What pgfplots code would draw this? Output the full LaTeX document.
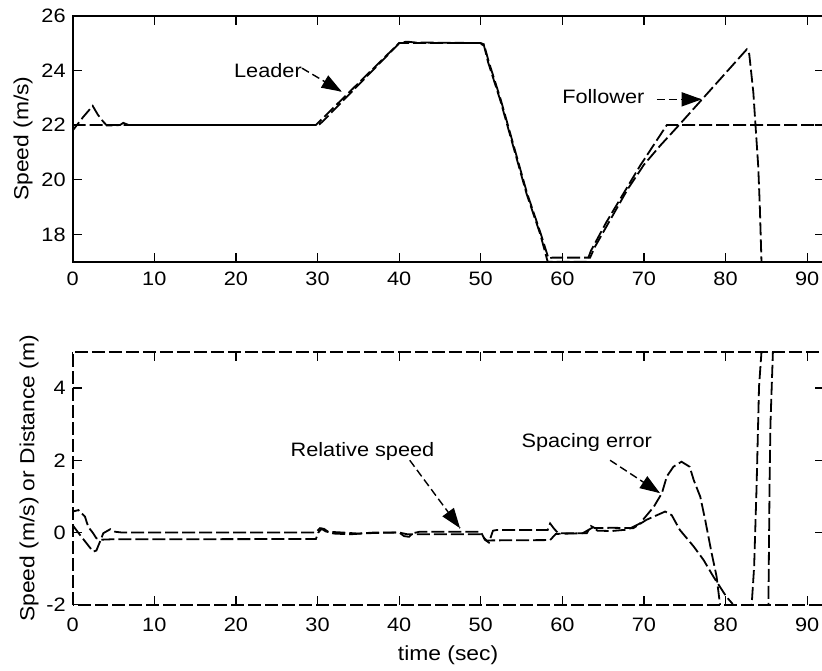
\documentclass[border=0pt]{standalone}
\usepackage{fontspec}
\setmainfont{Liberation Sans}[FakeStretch=1.12]
\usepackage{pgfplots}
\pgfplotsset{compat=1.18}
\usetikzlibrary{arrows.meta,calc}
\newcommand\fs{\fontsize{9.7}{11.6}\selectfont}
\newcommand\fl{\fontsize{10.2}{12}\selectfont}

\tikzset{
  dline/.style={black, line width=0.9pt, dash pattern=on 6.5pt off 2pt},
  annline/.style={black, line width=0.7pt, dash pattern=on 4pt off 2pt},
  annhead/.style={black, line width=0.7pt, solid,
    -{Triangle[length=10pt,width=7pt]}},
}
% dashed leader line with a solid filled head
\newcommand\annarrow[2]{%
  \draw[annline] #1 -- #2;
  \draw[annhead] ($#1!0.97!#2$) -- #2;
}
\pgfplotsset{
  matstyle/.style={
    scale only axis, width=375.4pt,
    xmin=0, xmax=92, xtick={0,10,...,90},
    tick align=inside, tick pos=both, major tick length=4.5pt,
    every tick/.style={black, line width=0.6pt},
    /pgf/number format/assume math mode=true,
    tick label style={font=\fs},
    label style={font=\fl},
  },
}

\begin{document}
\begin{tikzpicture}
\path[use as bounding box] (-36.35pt,-32.65pt) rectangle (374.65pt,302.35pt);

% upper panel: speeds
\begin{axis}[matstyle, at={(0,171.5pt)}, anchor=south west, height=123pt,
  ymin=17, ymax=26, ytick={18,20,...,26},
  axis line style={line width=1pt},
  xticklabel style={yshift=-1.8pt},
  ylabel={Speed (m/s)},
  ylabel style={at={(axis description cs:-0.0662,0.5)}, anchor=center},
]
% leader
\addplot[dline] coordinates {
  (0,22) (29.8,22) (40,25) (49.9,25) (50.4,24.9) (50.9,24.3) (52.4,22.9)
  (54,21.2) (55.6,19.5) (57.3,18.0) (58.2,17) (63.0,17) (63.5,17.4)
  (65.4,18.45) (67.9,19.7) (69.5,20.5) (72.8,22) (92,22)
};
% follower
\addplot[dline, dash phase=1.3pt] coordinates {
  (0,21.8) (1.3,22.3) (2.45,22.7) (3.1,22.37) (3.75,22.12) (4.2,21.98)
  (5.8,22.0) (6.2,22.08) (6.7,22.02) (7,22) (30,22) (30.2,22.02)
  (30.6,22.12) (40.1,25.02) (41,25.05) (42,25.02) (50,25)
  (50.4,24.95) (50.95,24.35) (52.45,22.93) (54.05,21.23) (55.65,19.53)
  (57.35,18.03) (58.3,17.12) (58.8,17.15) (63.4,17.15)
  (64,17.55) (66,18.6) (68,19.65) (70,20.55) (72,21.25) (74.3,22.0)
  (77,22.9) (80,23.9) (82.6,24.77) (82.9,24.6) (83.4,23.2) (84.0,20.5)
  (84.2,19.0) (84.4,17.0) (84.6,14)
};
\node[font=\fs] at (axis cs:23.93,24.01) {Leader};
\annarrow{(axis cs:28.1,24.08)}{(axis cs:32.97,23.22)}
\node[font=\fs] at (axis cs:65.02,23.04) {Follower};
\annarrow{(axis cs:71.57,22.94)}{(axis cs:77.08,22.94)}
\end{axis}

% lower panel: relative speed and spacing error
\begin{axis}[matstyle, at={(0,0)}, anchor=south west, height=126.4pt,
  ymin=-2, ymax=5, ytick={-2,0,2,4}, yticklabels={-2,0,2,4},
  axis line style={line width=1pt, dash pattern=on 6.5pt off 2pt},
  xticklabel style={yshift=-3.2pt},
  xlabel={time (sec)},
  xlabel style={at={(axis description cs:0.5,-0.198)}, anchor=center},
  ylabel={Speed (m/s) or Distance (m)},
  ylabel style={at={(axis description cs:-0.0582,0.5)}, anchor=center},
]
% relative speed
\addplot[dline] coordinates {
  (0,0.2) (0.9,-0.07) (1.7,-0.3) (2.5,-0.53) (2.9,-0.5) (3.35,-0.25)
  (3.75,-0.02) (4.6,0.09) (5.2,0.02) (6,0) (29.8,0) (30.3,0.12)
  (30.8,0.1) (31.3,0.02) (33,0.0) (35,-0.03) (37,0) (40,0) (40.6,-0.1)
  (41.2,-0.12) (41.7,-0.02) (42.5,0.02) (50,0.02) (50.5,-0.2) (51,-0.28)
  (51.5,0.05) (52,0.07) (58.2,0.07) (58.5,0.25) (59,0.1) (59.5,-0.02)
  (63,-0.02) (63.5,0.18) (64,0.12) (66,0.13) (68.7,0.12) (70.3,0.35)
  (71.6,0.48) (72.6,0.58) (73.4,0.48) (74.4,0.07) (76.1,-0.39)
  (77.3,-0.76) (78.5,-1.22) (79.3,-1.5) (80.1,-1.78) (80.8,-1.96)
  (81.5,-2.3) (82.6,-2.7) (83.0,-2.5) (83.2,-2.0) (83.5,-0.95)
  (83.8,1.27) (84.1,4.04) (84.4,5) (84.6,7)
};
% spacing error
\addplot[dline, dash phase=3pt] coordinates {
  (0,0.58) (0.7,0.62) (1.5,0.44) (1.9,0.16) (2.5,-0.02) (2.9,-0.16)
  (3.5,-0.2) (4.6,-0.19) (29.8,-0.18) (30.1,0.0) (30.5,0.1) (31,0.03)
  (32,-0.03) (34,-0.05) (36,-0.02) (40,0) (41,-0.05) (42,-0.05)
  (50,-0.05) (50.7,-0.22) (58.5,-0.21) (59.2,-0.04) (62.5,-0.02)
  (63.8,0.15) (64.3,0.05) (66,0.04) (68,0.08) (69.5,0.25) (71.2,0.71)
  (72.2,1.09) (72.8,1.55) (73.6,1.82) (74.6,1.96) (75.6,1.82)
  (76.1,1.45) (76.9,0.99) (77.5,0.35) (78.3,-0.58) (78.9,-1.22)
  (79.1,-1.6) (79.3,-1.96) (79.6,-2.6) (82,-4) (85,-4.5) (85.25,-2)
  (85.4,1.5) (85.5,3.0) (85.8,5) (85.9,6)
};
\node[font=\fs] at (axis cs:35.51,2.24) {Relative speed};
\annarrow{(axis cs:41.3,2.0)}{(axis cs:47.46,0.12)}
\node[font=\fs] at (axis cs:62.99,2.49) {Spacing error};
\annarrow{(axis cs:65.85,2.0)}{(axis cs:71.97,1.09)}
\end{axis}
\end{tikzpicture}
\end{document}
